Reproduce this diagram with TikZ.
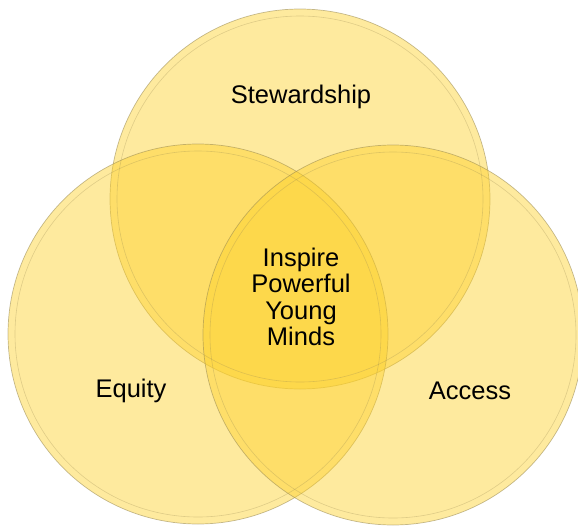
\documentclass[tikz,border=0pt]{standalone}
\usepackage{fontspec}
\setmainfont{Liberation Sans}
\usepackage{xcolor}
\usetikzlibrary{shapes.geometric}

\definecolor{vennfill}{RGB}{253,208,40}
\definecolor{vennedge}{RGB}{150,135,80}

\begin{document}
\begin{tikzpicture}[x=1pt, y=-1pt]
\tikzstyle{ring} = [circle, minimum size=380pt, inner sep=0pt, fill=vennfill, fill opacity=0.45, draw=vennedge, draw opacity=0.55, line width=0.7pt]
\tikzstyle{inring} = [circle, minimum size=366pt, inner sep=0pt, draw=vennedge, draw opacity=0.3, line width=0.6pt]
\tikzstyle{word} = [font=\fontsize{25.5}{26.3}\selectfont, text=black, align=center]

\useasboundingbox (0,0) rectangle (578,525);

\node (stew) [ring] at (300,199) {};
\node (equi) [ring] at (198,334) {};
\node (acce) [ring] at (393,335) {};
\node (stewin) [inring] at (stew.center) {};
\node (equiin) [inring] at (equi.center) {};
\node (accein) [inring] at (acce.center) {};

\node (stewtext) [word] at (301,97) {Stewardship};
\node (equitext) [word] at (131,391) {Equity};
\node (accetext) [word] at (470,391) {Access};
\node (core) [word] at (301,297) {Inspire\\Powerful\\Young\\Minds};
\end{tikzpicture}
\end{document}
